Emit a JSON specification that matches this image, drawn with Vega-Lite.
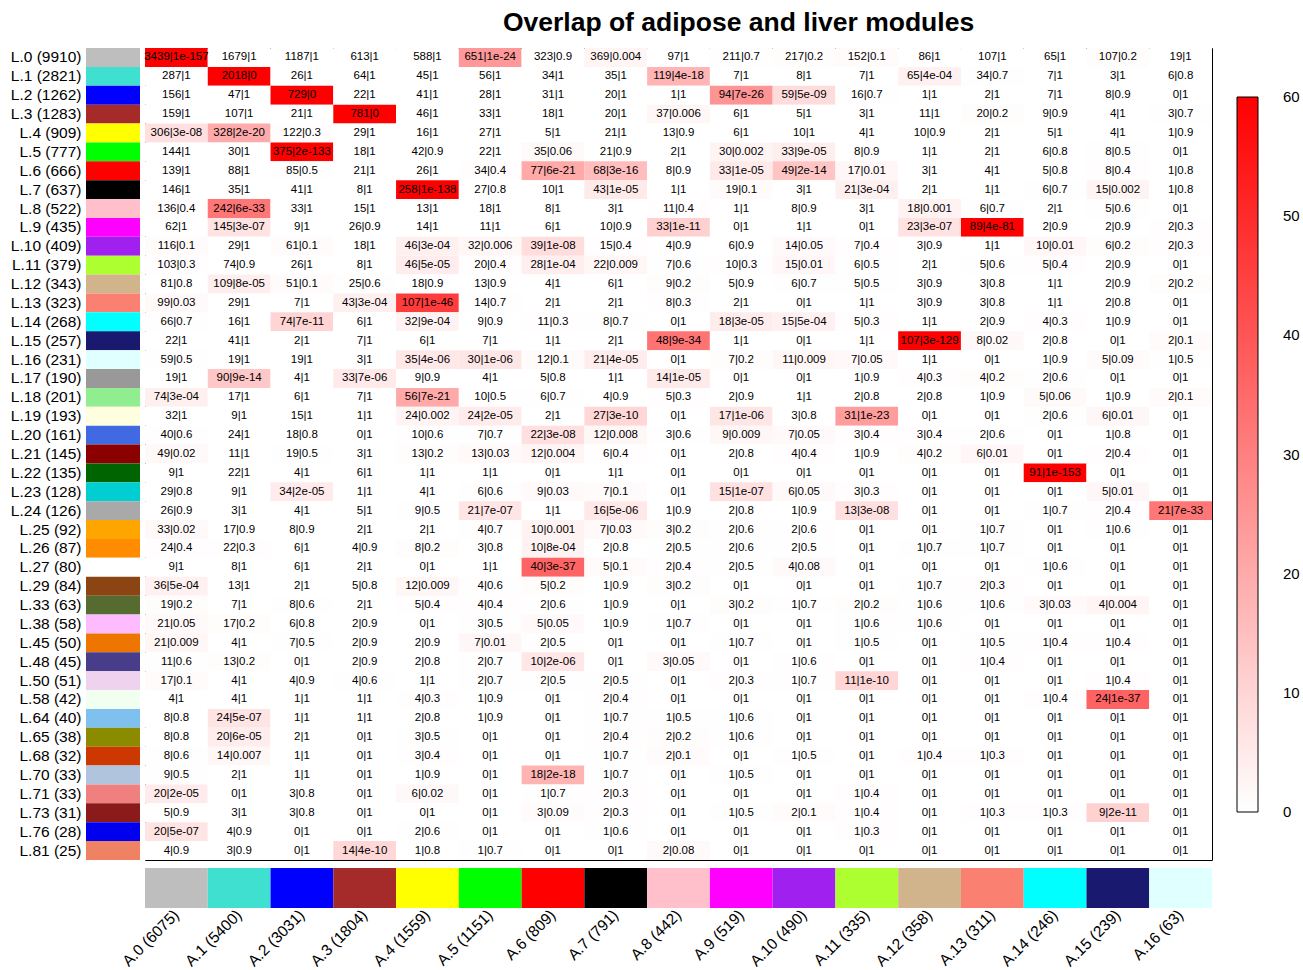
{
  "$schema": "https://vega.github.io/schema/vega-lite/v6.json",
  "padding": {"left": 10, "top": 8, "right": 3, "bottom": 2},
  "background": "white",
  "config": {
    "view": {"stroke": null},
    "font": "Liberation Sans",
    "axis": {"labelFont": "Liberation Sans", "labelColor": "black"},
    "legend": {"labelFont": "Liberation Sans", "labelColor": "black"}
  },
  "datasets": {
    "rows": [
      {"label": "L.0 (9910)", "hex": "#BEBEBE"},
      {"label": "L.1 (2821)", "hex": "#40E0D0"},
      {"label": "L.2 (1262)", "hex": "#0000FF"},
      {"label": "L.3 (1283)", "hex": "#A52A2A"},
      {"label": "L.4 (909)", "hex": "#FFFF00"},
      {"label": "L.5 (777)", "hex": "#00FF00"},
      {"label": "L.6 (666)", "hex": "#FF0000"},
      {"label": "L.7 (637)", "hex": "#000000"},
      {"label": "L.8 (522)", "hex": "#FFC0CB"},
      {"label": "L.9 (435)", "hex": "#FF00FF"},
      {"label": "L.10 (409)", "hex": "#A020F0"},
      {"label": "L.11 (379)", "hex": "#ADFF2F"},
      {"label": "L.12 (343)", "hex": "#D2B48C"},
      {"label": "L.13 (323)", "hex": "#FA8072"},
      {"label": "L.14 (268)", "hex": "#00FFFF"},
      {"label": "L.15 (257)", "hex": "#191970"},
      {"label": "L.16 (231)", "hex": "#E0FFFF"},
      {"label": "L.17 (190)", "hex": "#999999"},
      {"label": "L.18 (201)", "hex": "#90EE90"},
      {"label": "L.19 (193)", "hex": "#FFFFE0"},
      {"label": "L.20 (161)", "hex": "#4169E1"},
      {"label": "L.21 (145)", "hex": "#8B0000"},
      {"label": "L.22 (135)", "hex": "#006400"},
      {"label": "L.23 (128)", "hex": "#00CED1"},
      {"label": "L.24 (126)", "hex": "#A9A9A9"},
      {"label": "L.25 (92)", "hex": "#FFA500"},
      {"label": "L.26 (87)", "hex": "#FF8C00"},
      {"label": "L.27 (80)", "hex": "#FFFFFF"},
      {"label": "L.29 (84)", "hex": "#8B4513"},
      {"label": "L.33 (63)", "hex": "#556B2F"},
      {"label": "L.38 (58)", "hex": "#FFBBFF"},
      {"label": "L.45 (50)", "hex": "#EE7600"},
      {"label": "L.48 (45)", "hex": "#483D8B"},
      {"label": "L.50 (51)", "hex": "#EED2EE"},
      {"label": "L.58 (42)", "hex": "#F0FFF0"},
      {"label": "L.64 (40)", "hex": "#7EC0EE"},
      {"label": "L.65 (38)", "hex": "#8B8B00"},
      {"label": "L.68 (32)", "hex": "#CD3700"},
      {"label": "L.70 (33)", "hex": "#B0C4DE"},
      {"label": "L.71 (33)", "hex": "#F08080"},
      {"label": "L.73 (31)", "hex": "#8B1A1A"},
      {"label": "L.76 (28)", "hex": "#0000EE"},
      {"label": "L.81 (25)", "hex": "#EE8262"}
    ],
    "cols": [
      {"label": "A.0 (6075)", "hex": "#BEBEBE"},
      {"label": "A.1 (5400)", "hex": "#40E0D0"},
      {"label": "A.2 (3031)", "hex": "#0000FF"},
      {"label": "A.3 (1804)", "hex": "#A52A2A"},
      {"label": "A.4 (1559)", "hex": "#FFFF00"},
      {"label": "A.5 (1151)", "hex": "#00FF00"},
      {"label": "A.6 (809)", "hex": "#FF0000"},
      {"label": "A.7 (791)", "hex": "#000000"},
      {"label": "A.8 (442)", "hex": "#FFC0CB"},
      {"label": "A.9 (519)", "hex": "#FF00FF"},
      {"label": "A.10 (490)", "hex": "#A020F0"},
      {"label": "A.11 (335)", "hex": "#ADFF2F"},
      {"label": "A.12 (358)", "hex": "#D2B48C"},
      {"label": "A.13 (311)", "hex": "#FA8072"},
      {"label": "A.14 (246)", "hex": "#00FFFF"},
      {"label": "A.15 (239)", "hex": "#191970"},
      {"label": "A.16 (63)", "hex": "#E0FFFF"}
    ],
    "cells": [
      {"r":"L.0","c":"A.0","t":"3439|1e-157","s":157},{"r":"L.0","c":"A.1","t":"1679|1","s":0},{"r":"L.0","c":"A.2","t":"1187|1","s":0},{"r":"L.0","c":"A.3","t":"613|1","s":0},{"r":"L.0","c":"A.4","t":"588|1","s":0},{"r":"L.0","c":"A.5","t":"651|1e-24","s":24},{"r":"L.0","c":"A.6","t":"323|0.9","s":0.05},{"r":"L.0","c":"A.7","t":"369|0.004","s":2.4},{"r":"L.0","c":"A.8","t":"97|1","s":0},{"r":"L.0","c":"A.9","t":"211|0.7","s":0.15},{"r":"L.0","c":"A.10","t":"217|0.2","s":0.7},{"r":"L.0","c":"A.11","t":"152|0.1","s":1},{"r":"L.0","c":"A.12","t":"86|1","s":0},{"r":"L.0","c":"A.13","t":"107|1","s":0},{"r":"L.0","c":"A.14","t":"65|1","s":0},{"r":"L.0","c":"A.15","t":"107|0.2","s":0.7},{"r":"L.0","c":"A.16","t":"19|1","s":0},
      {"r":"L.1","c":"A.0","t":"287|1","s":0},{"r":"L.1","c":"A.1","t":"2018|0","s":324},{"r":"L.1","c":"A.2","t":"26|1","s":0},{"r":"L.1","c":"A.3","t":"64|1","s":0},{"r":"L.1","c":"A.4","t":"45|1","s":0},{"r":"L.1","c":"A.5","t":"56|1","s":0},{"r":"L.1","c":"A.6","t":"34|1","s":0},{"r":"L.1","c":"A.7","t":"35|1","s":0},{"r":"L.1","c":"A.8","t":"119|4e-18","s":17.4},{"r":"L.1","c":"A.9","t":"7|1","s":0},{"r":"L.1","c":"A.10","t":"8|1","s":0},{"r":"L.1","c":"A.11","t":"7|1","s":0},{"r":"L.1","c":"A.12","t":"65|4e-04","s":3.4},{"r":"L.1","c":"A.13","t":"34|0.7","s":0.15},{"r":"L.1","c":"A.14","t":"7|1","s":0},{"r":"L.1","c":"A.15","t":"3|1","s":0},{"r":"L.1","c":"A.16","t":"6|0.8","s":0.1},
      {"r":"L.2","c":"A.0","t":"156|1","s":0},{"r":"L.2","c":"A.1","t":"47|1","s":0},{"r":"L.2","c":"A.2","t":"729|0","s":324},{"r":"L.2","c":"A.3","t":"22|1","s":0},{"r":"L.2","c":"A.4","t":"41|1","s":0},{"r":"L.2","c":"A.5","t":"28|1","s":0},{"r":"L.2","c":"A.6","t":"31|1","s":0},{"r":"L.2","c":"A.7","t":"20|1","s":0},{"r":"L.2","c":"A.8","t":"1|1","s":0},{"r":"L.2","c":"A.9","t":"94|7e-26","s":25.15},{"r":"L.2","c":"A.10","t":"59|5e-09","s":8.3},{"r":"L.2","c":"A.11","t":"16|0.7","s":0.15},{"r":"L.2","c":"A.12","t":"1|1","s":0},{"r":"L.2","c":"A.13","t":"2|1","s":0},{"r":"L.2","c":"A.14","t":"7|1","s":0},{"r":"L.2","c":"A.15","t":"8|0.9","s":0.05},{"r":"L.2","c":"A.16","t":"0|1","s":0},
      {"r":"L.3","c":"A.0","t":"159|1","s":0},{"r":"L.3","c":"A.1","t":"107|1","s":0},{"r":"L.3","c":"A.2","t":"21|1","s":0},{"r":"L.3","c":"A.3","t":"781|0","s":324},{"r":"L.3","c":"A.4","t":"46|1","s":0},{"r":"L.3","c":"A.5","t":"33|1","s":0},{"r":"L.3","c":"A.6","t":"18|1","s":0},{"r":"L.3","c":"A.7","t":"20|1","s":0},{"r":"L.3","c":"A.8","t":"37|0.006","s":2.22},{"r":"L.3","c":"A.9","t":"6|1","s":0},{"r":"L.3","c":"A.10","t":"5|1","s":0},{"r":"L.3","c":"A.11","t":"3|1","s":0},{"r":"L.3","c":"A.12","t":"11|1","s":0},{"r":"L.3","c":"A.13","t":"20|0.2","s":0.7},{"r":"L.3","c":"A.14","t":"9|0.9","s":0.05},{"r":"L.3","c":"A.15","t":"4|1","s":0},{"r":"L.3","c":"A.16","t":"3|0.7","s":0.15},
      {"r":"L.4","c":"A.0","t":"306|3e-08","s":7.52},{"r":"L.4","c":"A.1","t":"328|2e-20","s":19.7},{"r":"L.4","c":"A.2","t":"122|0.3","s":0.52},{"r":"L.4","c":"A.3","t":"29|1","s":0},{"r":"L.4","c":"A.4","t":"16|1","s":0},{"r":"L.4","c":"A.5","t":"27|1","s":0},{"r":"L.4","c":"A.6","t":"5|1","s":0},{"r":"L.4","c":"A.7","t":"21|1","s":0},{"r":"L.4","c":"A.8","t":"13|0.9","s":0.05},{"r":"L.4","c":"A.9","t":"6|1","s":0},{"r":"L.4","c":"A.10","t":"10|1","s":0},{"r":"L.4","c":"A.11","t":"4|1","s":0},{"r":"L.4","c":"A.12","t":"10|0.9","s":0.05},{"r":"L.4","c":"A.13","t":"2|1","s":0},{"r":"L.4","c":"A.14","t":"5|1","s":0},{"r":"L.4","c":"A.15","t":"4|1","s":0},{"r":"L.4","c":"A.16","t":"1|0.9","s":0.05},
      {"r":"L.5","c":"A.0","t":"144|1","s":0},{"r":"L.5","c":"A.1","t":"30|1","s":0},{"r":"L.5","c":"A.2","t":"375|2e-133","s":132.7},{"r":"L.5","c":"A.3","t":"18|1","s":0},{"r":"L.5","c":"A.4","t":"42|0.9","s":0.05},{"r":"L.5","c":"A.5","t":"22|1","s":0},{"r":"L.5","c":"A.6","t":"35|0.06","s":1.22},{"r":"L.5","c":"A.7","t":"21|0.9","s":0.05},{"r":"L.5","c":"A.8","t":"2|1","s":0},{"r":"L.5","c":"A.9","t":"30|0.002","s":2.7},{"r":"L.5","c":"A.10","t":"33|9e-05","s":4.05},{"r":"L.5","c":"A.11","t":"8|0.9","s":0.05},{"r":"L.5","c":"A.12","t":"1|1","s":0},{"r":"L.5","c":"A.13","t":"2|1","s":0},{"r":"L.5","c":"A.14","t":"6|0.8","s":0.1},{"r":"L.5","c":"A.15","t":"8|0.5","s":0.3},{"r":"L.5","c":"A.16","t":"0|1","s":0},
      {"r":"L.6","c":"A.0","t":"139|1","s":0},{"r":"L.6","c":"A.1","t":"88|1","s":0},{"r":"L.6","c":"A.2","t":"85|0.5","s":0.3},{"r":"L.6","c":"A.3","t":"21|1","s":0},{"r":"L.6","c":"A.4","t":"26|1","s":0},{"r":"L.6","c":"A.5","t":"34|0.4","s":0.4},{"r":"L.6","c":"A.6","t":"77|6e-21","s":20.22},{"r":"L.6","c":"A.7","t":"68|3e-16","s":15.52},{"r":"L.6","c":"A.8","t":"8|0.9","s":0.05},{"r":"L.6","c":"A.9","t":"33|1e-05","s":5},{"r":"L.6","c":"A.10","t":"49|2e-14","s":13.7},{"r":"L.6","c":"A.11","t":"17|0.01","s":2},{"r":"L.6","c":"A.12","t":"3|1","s":0},{"r":"L.6","c":"A.13","t":"4|1","s":0},{"r":"L.6","c":"A.14","t":"5|0.8","s":0.1},{"r":"L.6","c":"A.15","t":"8|0.4","s":0.4},{"r":"L.6","c":"A.16","t":"1|0.8","s":0.1},
      {"r":"L.7","c":"A.0","t":"146|1","s":0},{"r":"L.7","c":"A.1","t":"35|1","s":0},{"r":"L.7","c":"A.2","t":"41|1","s":0},{"r":"L.7","c":"A.3","t":"8|1","s":0},{"r":"L.7","c":"A.4","t":"258|1e-138","s":138},{"r":"L.7","c":"A.5","t":"27|0.8","s":0.1},{"r":"L.7","c":"A.6","t":"10|1","s":0},{"r":"L.7","c":"A.7","t":"43|1e-05","s":5},{"r":"L.7","c":"A.8","t":"1|1","s":0},{"r":"L.7","c":"A.9","t":"19|0.1","s":1},{"r":"L.7","c":"A.10","t":"3|1","s":0},{"r":"L.7","c":"A.11","t":"21|3e-04","s":3.52},{"r":"L.7","c":"A.12","t":"2|1","s":0},{"r":"L.7","c":"A.13","t":"1|1","s":0},{"r":"L.7","c":"A.14","t":"6|0.7","s":0.15},{"r":"L.7","c":"A.15","t":"15|0.002","s":2.7},{"r":"L.7","c":"A.16","t":"1|0.8","s":0.1},
      {"r":"L.8","c":"A.0","t":"136|0.4","s":0.4},{"r":"L.8","c":"A.1","t":"242|6e-33","s":32.22},{"r":"L.8","c":"A.2","t":"33|1","s":0},{"r":"L.8","c":"A.3","t":"15|1","s":0},{"r":"L.8","c":"A.4","t":"13|1","s":0},{"r":"L.8","c":"A.5","t":"18|1","s":0},{"r":"L.8","c":"A.6","t":"8|1","s":0},{"r":"L.8","c":"A.7","t":"3|1","s":0},{"r":"L.8","c":"A.8","t":"11|0.4","s":0.4},{"r":"L.8","c":"A.9","t":"1|1","s":0},{"r":"L.8","c":"A.10","t":"8|0.9","s":0.05},{"r":"L.8","c":"A.11","t":"3|1","s":0},{"r":"L.8","c":"A.12","t":"18|0.001","s":3},{"r":"L.8","c":"A.13","t":"6|0.7","s":0.15},{"r":"L.8","c":"A.14","t":"2|1","s":0},{"r":"L.8","c":"A.15","t":"5|0.6","s":0.22},{"r":"L.8","c":"A.16","t":"0|1","s":0},
      {"r":"L.9","c":"A.0","t":"62|1","s":0},{"r":"L.9","c":"A.1","t":"145|3e-07","s":6.52},{"r":"L.9","c":"A.2","t":"9|1","s":0},{"r":"L.9","c":"A.3","t":"26|0.9","s":0.05},{"r":"L.9","c":"A.4","t":"14|1","s":0},{"r":"L.9","c":"A.5","t":"11|1","s":0},{"r":"L.9","c":"A.6","t":"6|1","s":0},{"r":"L.9","c":"A.7","t":"10|0.9","s":0.05},{"r":"L.9","c":"A.8","t":"33|1e-11","s":11},{"r":"L.9","c":"A.9","t":"0|1","s":0},{"r":"L.9","c":"A.10","t":"1|1","s":0},{"r":"L.9","c":"A.11","t":"0|1","s":0},{"r":"L.9","c":"A.12","t":"23|3e-07","s":6.52},{"r":"L.9","c":"A.13","t":"89|4e-81","s":80.4},{"r":"L.9","c":"A.14","t":"2|0.9","s":0.05},{"r":"L.9","c":"A.15","t":"2|0.9","s":0.05},{"r":"L.9","c":"A.16","t":"2|0.3","s":0.52},
      {"r":"L.10","c":"A.0","t":"116|0.1","s":1},{"r":"L.10","c":"A.1","t":"29|1","s":0},{"r":"L.10","c":"A.2","t":"61|0.1","s":1},{"r":"L.10","c":"A.3","t":"18|1","s":0},{"r":"L.10","c":"A.4","t":"46|3e-04","s":3.52},{"r":"L.10","c":"A.5","t":"32|0.006","s":2.22},{"r":"L.10","c":"A.6","t":"39|1e-08","s":8},{"r":"L.10","c":"A.7","t":"15|0.4","s":0.4},{"r":"L.10","c":"A.8","t":"4|0.9","s":0.05},{"r":"L.10","c":"A.9","t":"6|0.9","s":0.05},{"r":"L.10","c":"A.10","t":"14|0.05","s":1.3},{"r":"L.10","c":"A.11","t":"7|0.4","s":0.4},{"r":"L.10","c":"A.12","t":"3|0.9","s":0.05},{"r":"L.10","c":"A.13","t":"1|1","s":0},{"r":"L.10","c":"A.14","t":"10|0.01","s":2},{"r":"L.10","c":"A.15","t":"6|0.2","s":0.7},{"r":"L.10","c":"A.16","t":"2|0.3","s":0.52},
      {"r":"L.11","c":"A.0","t":"103|0.3","s":0.52},{"r":"L.11","c":"A.1","t":"74|0.9","s":0.05},{"r":"L.11","c":"A.2","t":"26|1","s":0},{"r":"L.11","c":"A.3","t":"8|1","s":0},{"r":"L.11","c":"A.4","t":"46|5e-05","s":4.3},{"r":"L.11","c":"A.5","t":"20|0.4","s":0.4},{"r":"L.11","c":"A.6","t":"28|1e-04","s":4},{"r":"L.11","c":"A.7","t":"22|0.009","s":2.05},{"r":"L.11","c":"A.8","t":"7|0.6","s":0.22},{"r":"L.11","c":"A.9","t":"10|0.3","s":0.52},{"r":"L.11","c":"A.10","t":"15|0.01","s":2},{"r":"L.11","c":"A.11","t":"6|0.5","s":0.3},{"r":"L.11","c":"A.12","t":"2|1","s":0},{"r":"L.11","c":"A.13","t":"5|0.6","s":0.22},{"r":"L.11","c":"A.14","t":"5|0.4","s":0.4},{"r":"L.11","c":"A.15","t":"2|0.9","s":0.05},{"r":"L.11","c":"A.16","t":"0|1","s":0},
      {"r":"L.12","c":"A.0","t":"81|0.8","s":0.1},{"r":"L.12","c":"A.1","t":"109|8e-05","s":4.1},{"r":"L.12","c":"A.2","t":"51|0.1","s":1},{"r":"L.12","c":"A.3","t":"25|0.6","s":0.22},{"r":"L.12","c":"A.4","t":"18|0.9","s":0.05},{"r":"L.12","c":"A.5","t":"13|0.9","s":0.05},{"r":"L.12","c":"A.6","t":"4|1","s":0},{"r":"L.12","c":"A.7","t":"6|1","s":0},{"r":"L.12","c":"A.8","t":"9|0.2","s":0.7},{"r":"L.12","c":"A.9","t":"5|0.9","s":0.05},{"r":"L.12","c":"A.10","t":"6|0.7","s":0.15},{"r":"L.12","c":"A.11","t":"5|0.5","s":0.3},{"r":"L.12","c":"A.12","t":"3|0.9","s":0.05},{"r":"L.12","c":"A.13","t":"3|0.8","s":0.1},{"r":"L.12","c":"A.14","t":"1|1","s":0},{"r":"L.12","c":"A.15","t":"2|0.9","s":0.05},{"r":"L.12","c":"A.16","t":"2|0.2","s":0.7},
      {"r":"L.13","c":"A.0","t":"99|0.03","s":1.52},{"r":"L.13","c":"A.1","t":"29|1","s":0},{"r":"L.13","c":"A.2","t":"7|1","s":0},{"r":"L.13","c":"A.3","t":"43|3e-04","s":3.52},{"r":"L.13","c":"A.4","t":"107|1e-46","s":46},{"r":"L.13","c":"A.5","t":"14|0.7","s":0.15},{"r":"L.13","c":"A.6","t":"2|1","s":0},{"r":"L.13","c":"A.7","t":"2|1","s":0},{"r":"L.13","c":"A.8","t":"8|0.3","s":0.52},{"r":"L.13","c":"A.9","t":"2|1","s":0},{"r":"L.13","c":"A.10","t":"0|1","s":0},{"r":"L.13","c":"A.11","t":"1|1","s":0},{"r":"L.13","c":"A.12","t":"3|0.9","s":0.05},{"r":"L.13","c":"A.13","t":"3|0.8","s":0.1},{"r":"L.13","c":"A.14","t":"1|1","s":0},{"r":"L.13","c":"A.15","t":"2|0.8","s":0.1},{"r":"L.13","c":"A.16","t":"0|1","s":0},
      {"r":"L.14","c":"A.0","t":"66|0.7","s":0.15},{"r":"L.14","c":"A.1","t":"16|1","s":0},{"r":"L.14","c":"A.2","t":"74|7e-11","s":10.15},{"r":"L.14","c":"A.3","t":"6|1","s":0},{"r":"L.14","c":"A.4","t":"32|9e-04","s":3.05},{"r":"L.14","c":"A.5","t":"9|0.9","s":0.05},{"r":"L.14","c":"A.6","t":"11|0.3","s":0.52},{"r":"L.14","c":"A.7","t":"8|0.7","s":0.15},{"r":"L.14","c":"A.8","t":"0|1","s":0},{"r":"L.14","c":"A.9","t":"18|3e-05","s":4.52},{"r":"L.14","c":"A.10","t":"15|5e-04","s":3.3},{"r":"L.14","c":"A.11","t":"5|0.3","s":0.52},{"r":"L.14","c":"A.12","t":"1|1","s":0},{"r":"L.14","c":"A.13","t":"2|0.9","s":0.05},{"r":"L.14","c":"A.14","t":"4|0.3","s":0.52},{"r":"L.14","c":"A.15","t":"1|0.9","s":0.05},{"r":"L.14","c":"A.16","t":"0|1","s":0},
      {"r":"L.15","c":"A.0","t":"22|1","s":0},{"r":"L.15","c":"A.1","t":"41|1","s":0},{"r":"L.15","c":"A.2","t":"2|1","s":0},{"r":"L.15","c":"A.3","t":"7|1","s":0},{"r":"L.15","c":"A.4","t":"6|1","s":0},{"r":"L.15","c":"A.5","t":"7|1","s":0},{"r":"L.15","c":"A.6","t":"1|1","s":0},{"r":"L.15","c":"A.7","t":"2|1","s":0},{"r":"L.15","c":"A.8","t":"48|9e-34","s":33.05},{"r":"L.15","c":"A.9","t":"1|1","s":0},{"r":"L.15","c":"A.10","t":"0|1","s":0},{"r":"L.15","c":"A.11","t":"1|1","s":0},{"r":"L.15","c":"A.12","t":"107|3e-129","s":128.52},{"r":"L.15","c":"A.13","t":"8|0.02","s":1.7},{"r":"L.15","c":"A.14","t":"2|0.8","s":0.1},{"r":"L.15","c":"A.15","t":"0|1","s":0},{"r":"L.15","c":"A.16","t":"2|0.1","s":1},
      {"r":"L.16","c":"A.0","t":"59|0.5","s":0.3},{"r":"L.16","c":"A.1","t":"19|1","s":0},{"r":"L.16","c":"A.2","t":"19|1","s":0},{"r":"L.16","c":"A.3","t":"3|1","s":0},{"r":"L.16","c":"A.4","t":"35|4e-06","s":5.4},{"r":"L.16","c":"A.5","t":"30|1e-06","s":6},{"r":"L.16","c":"A.6","t":"12|0.1","s":1},{"r":"L.16","c":"A.7","t":"21|4e-05","s":4.4},{"r":"L.16","c":"A.8","t":"0|1","s":0},{"r":"L.16","c":"A.9","t":"7|0.2","s":0.7},{"r":"L.16","c":"A.10","t":"11|0.009","s":2.05},{"r":"L.16","c":"A.11","t":"7|0.05","s":1.3},{"r":"L.16","c":"A.12","t":"1|1","s":0},{"r":"L.16","c":"A.13","t":"0|1","s":0},{"r":"L.16","c":"A.14","t":"1|0.9","s":0.05},{"r":"L.16","c":"A.15","t":"5|0.09","s":1.05},{"r":"L.16","c":"A.16","t":"1|0.5","s":0.3},
      {"r":"L.17","c":"A.0","t":"19|1","s":0},{"r":"L.17","c":"A.1","t":"90|9e-14","s":13.05},{"r":"L.17","c":"A.2","t":"4|1","s":0},{"r":"L.17","c":"A.3","t":"33|7e-06","s":5.15},{"r":"L.17","c":"A.4","t":"9|0.9","s":0.05},{"r":"L.17","c":"A.5","t":"4|1","s":0},{"r":"L.17","c":"A.6","t":"5|0.8","s":0.1},{"r":"L.17","c":"A.7","t":"1|1","s":0},{"r":"L.17","c":"A.8","t":"14|1e-05","s":5},{"r":"L.17","c":"A.9","t":"0|1","s":0},{"r":"L.17","c":"A.10","t":"0|1","s":0},{"r":"L.17","c":"A.11","t":"1|0.9","s":0.05},{"r":"L.17","c":"A.12","t":"4|0.3","s":0.52},{"r":"L.17","c":"A.13","t":"4|0.2","s":0.7},{"r":"L.17","c":"A.14","t":"2|0.6","s":0.22},{"r":"L.17","c":"A.15","t":"0|1","s":0},{"r":"L.17","c":"A.16","t":"0|1","s":0},
      {"r":"L.18","c":"A.0","t":"74|3e-04","s":3.52},{"r":"L.18","c":"A.1","t":"17|1","s":0},{"r":"L.18","c":"A.2","t":"6|1","s":0},{"r":"L.18","c":"A.3","t":"7|1","s":0},{"r":"L.18","c":"A.4","t":"56|7e-21","s":20.15},{"r":"L.18","c":"A.5","t":"10|0.5","s":0.3},{"r":"L.18","c":"A.6","t":"6|0.7","s":0.15},{"r":"L.18","c":"A.7","t":"4|0.9","s":0.05},{"r":"L.18","c":"A.8","t":"5|0.3","s":0.52},{"r":"L.18","c":"A.9","t":"2|0.9","s":0.05},{"r":"L.18","c":"A.10","t":"1|1","s":0},{"r":"L.18","c":"A.11","t":"2|0.8","s":0.1},{"r":"L.18","c":"A.12","t":"2|0.8","s":0.1},{"r":"L.18","c":"A.13","t":"1|0.9","s":0.05},{"r":"L.18","c":"A.14","t":"5|0.06","s":1.22},{"r":"L.18","c":"A.15","t":"1|0.9","s":0.05},{"r":"L.18","c":"A.16","t":"2|0.1","s":1},
      {"r":"L.19","c":"A.0","t":"32|1","s":0},{"r":"L.19","c":"A.1","t":"9|1","s":0},{"r":"L.19","c":"A.2","t":"15|1","s":0},{"r":"L.19","c":"A.3","t":"1|1","s":0},{"r":"L.19","c":"A.4","t":"24|0.002","s":2.7},{"r":"L.19","c":"A.5","t":"24|2e-05","s":4.7},{"r":"L.19","c":"A.6","t":"2|1","s":0},{"r":"L.19","c":"A.7","t":"27|3e-10","s":9.52},{"r":"L.19","c":"A.8","t":"0|1","s":0},{"r":"L.19","c":"A.9","t":"17|1e-06","s":6},{"r":"L.19","c":"A.10","t":"3|0.8","s":0.1},{"r":"L.19","c":"A.11","t":"31|1e-23","s":23},{"r":"L.19","c":"A.12","t":"0|1","s":0},{"r":"L.19","c":"A.13","t":"0|1","s":0},{"r":"L.19","c":"A.14","t":"2|0.6","s":0.22},{"r":"L.19","c":"A.15","t":"6|0.01","s":2},{"r":"L.19","c":"A.16","t":"0|1","s":0},
      {"r":"L.20","c":"A.0","t":"40|0.6","s":0.22},{"r":"L.20","c":"A.1","t":"24|1","s":0},{"r":"L.20","c":"A.2","t":"18|0.8","s":0.1},{"r":"L.20","c":"A.3","t":"0|1","s":0},{"r":"L.20","c":"A.4","t":"10|0.6","s":0.22},{"r":"L.20","c":"A.5","t":"7|0.7","s":0.15},{"r":"L.20","c":"A.6","t":"22|3e-08","s":7.52},{"r":"L.20","c":"A.7","t":"12|0.008","s":2.1},{"r":"L.20","c":"A.8","t":"3|0.6","s":0.22},{"r":"L.20","c":"A.9","t":"9|0.009","s":2.05},{"r":"L.20","c":"A.10","t":"7|0.05","s":1.3},{"r":"L.20","c":"A.11","t":"3|0.4","s":0.4},{"r":"L.20","c":"A.12","t":"3|0.4","s":0.4},{"r":"L.20","c":"A.13","t":"2|0.6","s":0.22},{"r":"L.20","c":"A.14","t":"0|1","s":0},{"r":"L.20","c":"A.15","t":"1|0.8","s":0.1},{"r":"L.20","c":"A.16","t":"0|1","s":0},
      {"r":"L.21","c":"A.0","t":"49|0.02","s":1.7},{"r":"L.21","c":"A.1","t":"11|1","s":0},{"r":"L.21","c":"A.2","t":"19|0.5","s":0.3},{"r":"L.21","c":"A.3","t":"3|1","s":0},{"r":"L.21","c":"A.4","t":"13|0.2","s":0.7},{"r":"L.21","c":"A.5","t":"13|0.03","s":1.52},{"r":"L.21","c":"A.6","t":"12|0.004","s":2.4},{"r":"L.21","c":"A.7","t":"6|0.4","s":0.4},{"r":"L.21","c":"A.8","t":"0|1","s":0},{"r":"L.21","c":"A.9","t":"2|0.8","s":0.1},{"r":"L.21","c":"A.10","t":"4|0.4","s":0.4},{"r":"L.21","c":"A.11","t":"1|0.9","s":0.05},{"r":"L.21","c":"A.12","t":"4|0.2","s":0.7},{"r":"L.21","c":"A.13","t":"6|0.01","s":2},{"r":"L.21","c":"A.14","t":"0|1","s":0},{"r":"L.21","c":"A.15","t":"2|0.4","s":0.4},{"r":"L.21","c":"A.16","t":"0|1","s":0},
      {"r":"L.22","c":"A.0","t":"9|1","s":0},{"r":"L.22","c":"A.1","t":"22|1","s":0},{"r":"L.22","c":"A.2","t":"4|1","s":0},{"r":"L.22","c":"A.3","t":"6|1","s":0},{"r":"L.22","c":"A.4","t":"1|1","s":0},{"r":"L.22","c":"A.5","t":"1|1","s":0},{"r":"L.22","c":"A.6","t":"0|1","s":0},{"r":"L.22","c":"A.7","t":"1|1","s":0},{"r":"L.22","c":"A.8","t":"0|1","s":0},{"r":"L.22","c":"A.9","t":"0|1","s":0},{"r":"L.22","c":"A.10","t":"0|1","s":0},{"r":"L.22","c":"A.11","t":"0|1","s":0},{"r":"L.22","c":"A.12","t":"0|1","s":0},{"r":"L.22","c":"A.13","t":"0|1","s":0},{"r":"L.22","c":"A.14","t":"91|1e-153","s":153},{"r":"L.22","c":"A.15","t":"0|1","s":0},{"r":"L.22","c":"A.16","t":"0|1","s":0},
      {"r":"L.23","c":"A.0","t":"29|0.8","s":0.1},{"r":"L.23","c":"A.1","t":"9|1","s":0},{"r":"L.23","c":"A.2","t":"34|2e-05","s":4.7},{"r":"L.23","c":"A.3","t":"1|1","s":0},{"r":"L.23","c":"A.4","t":"4|1","s":0},{"r":"L.23","c":"A.5","t":"6|0.6","s":0.22},{"r":"L.23","c":"A.6","t":"9|0.03","s":1.52},{"r":"L.23","c":"A.7","t":"7|0.1","s":1},{"r":"L.23","c":"A.8","t":"0|1","s":0},{"r":"L.23","c":"A.9","t":"15|1e-07","s":7},{"r":"L.23","c":"A.10","t":"6|0.05","s":1.3},{"r":"L.23","c":"A.11","t":"3|0.3","s":0.52},{"r":"L.23","c":"A.12","t":"0|1","s":0},{"r":"L.23","c":"A.13","t":"0|1","s":0},{"r":"L.23","c":"A.14","t":"0|1","s":0},{"r":"L.23","c":"A.15","t":"5|0.01","s":2},{"r":"L.23","c":"A.16","t":"0|1","s":0},
      {"r":"L.24","c":"A.0","t":"26|0.9","s":0.05},{"r":"L.24","c":"A.1","t":"3|1","s":0},{"r":"L.24","c":"A.2","t":"4|1","s":0},{"r":"L.24","c":"A.3","t":"5|1","s":0},{"r":"L.24","c":"A.4","t":"9|0.5","s":0.3},{"r":"L.24","c":"A.5","t":"21|7e-07","s":6.15},{"r":"L.24","c":"A.6","t":"1|1","s":0},{"r":"L.24","c":"A.7","t":"16|5e-06","s":5.3},{"r":"L.24","c":"A.8","t":"1|0.9","s":0.05},{"r":"L.24","c":"A.9","t":"2|0.8","s":0.1},{"r":"L.24","c":"A.10","t":"1|0.9","s":0.05},{"r":"L.24","c":"A.11","t":"13|3e-08","s":7.52},{"r":"L.24","c":"A.12","t":"0|1","s":0},{"r":"L.24","c":"A.13","t":"0|1","s":0},{"r":"L.24","c":"A.14","t":"1|0.7","s":0.15},{"r":"L.24","c":"A.15","t":"2|0.4","s":0.4},{"r":"L.24","c":"A.16","t":"21|7e-33","s":32.15},
      {"r":"L.25","c":"A.0","t":"33|0.02","s":1.7},{"r":"L.25","c":"A.1","t":"17|0.9","s":0.05},{"r":"L.25","c":"A.2","t":"8|0.9","s":0.05},{"r":"L.25","c":"A.3","t":"2|1","s":0},{"r":"L.25","c":"A.4","t":"2|1","s":0},{"r":"L.25","c":"A.5","t":"4|0.7","s":0.15},{"r":"L.25","c":"A.6","t":"10|0.001","s":3},{"r":"L.25","c":"A.7","t":"7|0.03","s":1.52},{"r":"L.25","c":"A.8","t":"3|0.2","s":0.7},{"r":"L.25","c":"A.9","t":"2|0.6","s":0.22},{"r":"L.25","c":"A.10","t":"2|0.6","s":0.22},{"r":"L.25","c":"A.11","t":"0|1","s":0},{"r":"L.25","c":"A.12","t":"0|1","s":0},{"r":"L.25","c":"A.13","t":"1|0.7","s":0.15},{"r":"L.25","c":"A.14","t":"0|1","s":0},{"r":"L.25","c":"A.15","t":"1|0.6","s":0.22},{"r":"L.25","c":"A.16","t":"0|1","s":0},
      {"r":"L.26","c":"A.0","t":"24|0.4","s":0.4},{"r":"L.26","c":"A.1","t":"22|0.3","s":0.52},{"r":"L.26","c":"A.2","t":"6|1","s":0},{"r":"L.26","c":"A.3","t":"4|0.9","s":0.05},{"r":"L.26","c":"A.4","t":"8|0.2","s":0.7},{"r":"L.26","c":"A.5","t":"3|0.8","s":0.1},{"r":"L.26","c":"A.6","t":"10|8e-04","s":3.1},{"r":"L.26","c":"A.7","t":"2|0.8","s":0.1},{"r":"L.26","c":"A.8","t":"2|0.5","s":0.3},{"r":"L.26","c":"A.9","t":"2|0.6","s":0.22},{"r":"L.26","c":"A.10","t":"2|0.5","s":0.3},{"r":"L.26","c":"A.11","t":"0|1","s":0},{"r":"L.26","c":"A.12","t":"1|0.7","s":0.15},{"r":"L.26","c":"A.13","t":"1|0.7","s":0.15},{"r":"L.26","c":"A.14","t":"0|1","s":0},{"r":"L.26","c":"A.15","t":"0|1","s":0},{"r":"L.26","c":"A.16","t":"0|1","s":0},
      {"r":"L.27","c":"A.0","t":"9|1","s":0},{"r":"L.27","c":"A.1","t":"8|1","s":0},{"r":"L.27","c":"A.2","t":"6|1","s":0},{"r":"L.27","c":"A.3","t":"2|1","s":0},{"r":"L.27","c":"A.4","t":"0|1","s":0},{"r":"L.27","c":"A.5","t":"1|1","s":0},{"r":"L.27","c":"A.6","t":"40|3e-37","s":36.52},{"r":"L.27","c":"A.7","t":"5|0.1","s":1},{"r":"L.27","c":"A.8","t":"2|0.4","s":0.4},{"r":"L.27","c":"A.9","t":"2|0.5","s":0.3},{"r":"L.27","c":"A.10","t":"4|0.08","s":1.1},{"r":"L.27","c":"A.11","t":"0|1","s":0},{"r":"L.27","c":"A.12","t":"0|1","s":0},{"r":"L.27","c":"A.13","t":"0|1","s":0},{"r":"L.27","c":"A.14","t":"1|0.6","s":0.22},{"r":"L.27","c":"A.15","t":"0|1","s":0},{"r":"L.27","c":"A.16","t":"0|1","s":0},
      {"r":"L.29","c":"A.0","t":"36|5e-04","s":3.3},{"r":"L.29","c":"A.1","t":"13|1","s":0},{"r":"L.29","c":"A.2","t":"2|1","s":0},{"r":"L.29","c":"A.3","t":"5|0.8","s":0.1},{"r":"L.29","c":"A.4","t":"12|0.009","s":2.05},{"r":"L.29","c":"A.5","t":"4|0.6","s":0.22},{"r":"L.29","c":"A.6","t":"5|0.2","s":0.7},{"r":"L.29","c":"A.7","t":"1|0.9","s":0.05},{"r":"L.29","c":"A.8","t":"3|0.2","s":0.7},{"r":"L.29","c":"A.9","t":"0|1","s":0},{"r":"L.29","c":"A.10","t":"0|1","s":0},{"r":"L.29","c":"A.11","t":"0|1","s":0},{"r":"L.29","c":"A.12","t":"1|0.7","s":0.15},{"r":"L.29","c":"A.13","t":"2|0.3","s":0.52},{"r":"L.29","c":"A.14","t":"0|1","s":0},{"r":"L.29","c":"A.15","t":"0|1","s":0},{"r":"L.29","c":"A.16","t":"0|1","s":0},
      {"r":"L.33","c":"A.0","t":"19|0.2","s":0.7},{"r":"L.33","c":"A.1","t":"7|1","s":0},{"r":"L.33","c":"A.2","t":"8|0.6","s":0.22},{"r":"L.33","c":"A.3","t":"2|1","s":0},{"r":"L.33","c":"A.4","t":"5|0.4","s":0.4},{"r":"L.33","c":"A.5","t":"4|0.4","s":0.4},{"r":"L.33","c":"A.6","t":"2|0.6","s":0.22},{"r":"L.33","c":"A.7","t":"1|0.9","s":0.05},{"r":"L.33","c":"A.8","t":"0|1","s":0},{"r":"L.33","c":"A.9","t":"3|0.2","s":0.7},{"r":"L.33","c":"A.10","t":"1|0.7","s":0.15},{"r":"L.33","c":"A.11","t":"2|0.2","s":0.7},{"r":"L.33","c":"A.12","t":"1|0.6","s":0.22},{"r":"L.33","c":"A.13","t":"1|0.6","s":0.22},{"r":"L.33","c":"A.14","t":"3|0.03","s":1.52},{"r":"L.33","c":"A.15","t":"4|0.004","s":2.4},{"r":"L.33","c":"A.16","t":"0|1","s":0},
      {"r":"L.38","c":"A.0","t":"21|0.05","s":1.3},{"r":"L.38","c":"A.1","t":"17|0.2","s":0.7},{"r":"L.38","c":"A.2","t":"6|0.8","s":0.1},{"r":"L.38","c":"A.3","t":"2|0.9","s":0.05},{"r":"L.38","c":"A.4","t":"0|1","s":0},{"r":"L.38","c":"A.5","t":"3|0.5","s":0.3},{"r":"L.38","c":"A.6","t":"5|0.05","s":1.3},{"r":"L.38","c":"A.7","t":"1|0.9","s":0.05},{"r":"L.38","c":"A.8","t":"1|0.7","s":0.15},{"r":"L.38","c":"A.9","t":"0|1","s":0},{"r":"L.38","c":"A.10","t":"0|1","s":0},{"r":"L.38","c":"A.11","t":"1|0.6","s":0.22},{"r":"L.38","c":"A.12","t":"1|0.6","s":0.22},{"r":"L.38","c":"A.13","t":"0|1","s":0},{"r":"L.38","c":"A.14","t":"0|1","s":0},{"r":"L.38","c":"A.15","t":"0|1","s":0},{"r":"L.38","c":"A.16","t":"0|1","s":0},
      {"r":"L.45","c":"A.0","t":"21|0.009","s":2.05},{"r":"L.45","c":"A.1","t":"4|1","s":0},{"r":"L.45","c":"A.2","t":"7|0.5","s":0.3},{"r":"L.45","c":"A.3","t":"2|0.9","s":0.05},{"r":"L.45","c":"A.4","t":"2|0.9","s":0.05},{"r":"L.45","c":"A.5","t":"7|0.01","s":2},{"r":"L.45","c":"A.6","t":"2|0.5","s":0.3},{"r":"L.45","c":"A.7","t":"0|1","s":0},{"r":"L.45","c":"A.8","t":"0|1","s":0},{"r":"L.45","c":"A.9","t":"1|0.7","s":0.15},{"r":"L.45","c":"A.10","t":"0|1","s":0},{"r":"L.45","c":"A.11","t":"1|0.5","s":0.3},{"r":"L.45","c":"A.12","t":"0|1","s":0},{"r":"L.45","c":"A.13","t":"1|0.5","s":0.3},{"r":"L.45","c":"A.14","t":"1|0.4","s":0.4},{"r":"L.45","c":"A.15","t":"1|0.4","s":0.4},{"r":"L.45","c":"A.16","t":"0|1","s":0},
      {"r":"L.48","c":"A.0","t":"11|0.6","s":0.22},{"r":"L.48","c":"A.1","t":"13|0.2","s":0.7},{"r":"L.48","c":"A.2","t":"0|1","s":0},{"r":"L.48","c":"A.3","t":"2|0.9","s":0.05},{"r":"L.48","c":"A.4","t":"2|0.8","s":0.1},{"r":"L.48","c":"A.5","t":"2|0.7","s":0.15},{"r":"L.48","c":"A.6","t":"10|2e-06","s":5.7},{"r":"L.48","c":"A.7","t":"0|1","s":0},{"r":"L.48","c":"A.8","t":"3|0.05","s":1.3},{"r":"L.48","c":"A.9","t":"0|1","s":0},{"r":"L.48","c":"A.10","t":"1|0.6","s":0.22},{"r":"L.48","c":"A.11","t":"0|1","s":0},{"r":"L.48","c":"A.12","t":"0|1","s":0},{"r":"L.48","c":"A.13","t":"1|0.4","s":0.4},{"r":"L.48","c":"A.14","t":"0|1","s":0},{"r":"L.48","c":"A.15","t":"0|1","s":0},{"r":"L.48","c":"A.16","t":"0|1","s":0},
      {"r":"L.50","c":"A.0","t":"17|0.1","s":1},{"r":"L.50","c":"A.1","t":"4|1","s":0},{"r":"L.50","c":"A.2","t":"4|0.9","s":0.05},{"r":"L.50","c":"A.3","t":"4|0.6","s":0.22},{"r":"L.50","c":"A.4","t":"1|1","s":0},{"r":"L.50","c":"A.5","t":"2|0.7","s":0.15},{"r":"L.50","c":"A.6","t":"2|0.5","s":0.3},{"r":"L.50","c":"A.7","t":"2|0.5","s":0.3},{"r":"L.50","c":"A.8","t":"0|1","s":0},{"r":"L.50","c":"A.9","t":"2|0.3","s":0.52},{"r":"L.50","c":"A.10","t":"1|0.7","s":0.15},{"r":"L.50","c":"A.11","t":"11|1e-10","s":10},{"r":"L.50","c":"A.12","t":"0|1","s":0},{"r":"L.50","c":"A.13","t":"0|1","s":0},{"r":"L.50","c":"A.14","t":"0|1","s":0},{"r":"L.50","c":"A.15","t":"1|0.4","s":0.4},{"r":"L.50","c":"A.16","t":"0|1","s":0},
      {"r":"L.58","c":"A.0","t":"4|1","s":0},{"r":"L.58","c":"A.1","t":"4|1","s":0},{"r":"L.58","c":"A.2","t":"1|1","s":0},{"r":"L.58","c":"A.3","t":"1|1","s":0},{"r":"L.58","c":"A.4","t":"4|0.3","s":0.52},{"r":"L.58","c":"A.5","t":"1|0.9","s":0.05},{"r":"L.58","c":"A.6","t":"0|1","s":0},{"r":"L.58","c":"A.7","t":"2|0.4","s":0.4},{"r":"L.58","c":"A.8","t":"0|1","s":0},{"r":"L.58","c":"A.9","t":"0|1","s":0},{"r":"L.58","c":"A.10","t":"0|1","s":0},{"r":"L.58","c":"A.11","t":"0|1","s":0},{"r":"L.58","c":"A.12","t":"0|1","s":0},{"r":"L.58","c":"A.13","t":"0|1","s":0},{"r":"L.58","c":"A.14","t":"1|0.4","s":0.4},{"r":"L.58","c":"A.15","t":"24|1e-37","s":37},{"r":"L.58","c":"A.16","t":"0|1","s":0},
      {"r":"L.64","c":"A.0","t":"8|0.8","s":0.1},{"r":"L.64","c":"A.1","t":"24|5e-07","s":6.3},{"r":"L.64","c":"A.2","t":"1|1","s":0},{"r":"L.64","c":"A.3","t":"1|1","s":0},{"r":"L.64","c":"A.4","t":"2|0.8","s":0.1},{"r":"L.64","c":"A.5","t":"1|0.9","s":0.05},{"r":"L.64","c":"A.6","t":"0|1","s":0},{"r":"L.64","c":"A.7","t":"1|0.7","s":0.15},{"r":"L.64","c":"A.8","t":"1|0.5","s":0.3},{"r":"L.64","c":"A.9","t":"1|0.6","s":0.22},{"r":"L.64","c":"A.10","t":"0|1","s":0},{"r":"L.64","c":"A.11","t":"0|1","s":0},{"r":"L.64","c":"A.12","t":"0|1","s":0},{"r":"L.64","c":"A.13","t":"0|1","s":0},{"r":"L.64","c":"A.14","t":"0|1","s":0},{"r":"L.64","c":"A.15","t":"0|1","s":0},{"r":"L.64","c":"A.16","t":"0|1","s":0},
      {"r":"L.65","c":"A.0","t":"8|0.8","s":0.1},{"r":"L.65","c":"A.1","t":"20|6e-05","s":4.22},{"r":"L.65","c":"A.2","t":"2|1","s":0},{"r":"L.65","c":"A.3","t":"0|1","s":0},{"r":"L.65","c":"A.4","t":"3|0.5","s":0.3},{"r":"L.65","c":"A.5","t":"0|1","s":0},{"r":"L.65","c":"A.6","t":"0|1","s":0},{"r":"L.65","c":"A.7","t":"2|0.4","s":0.4},{"r":"L.65","c":"A.8","t":"2|0.2","s":0.7},{"r":"L.65","c":"A.9","t":"1|0.6","s":0.22},{"r":"L.65","c":"A.10","t":"0|1","s":0},{"r":"L.65","c":"A.11","t":"0|1","s":0},{"r":"L.65","c":"A.12","t":"0|1","s":0},{"r":"L.65","c":"A.13","t":"0|1","s":0},{"r":"L.65","c":"A.14","t":"0|1","s":0},{"r":"L.65","c":"A.15","t":"0|1","s":0},{"r":"L.65","c":"A.16","t":"0|1","s":0},
      {"r":"L.68","c":"A.0","t":"8|0.6","s":0.22},{"r":"L.68","c":"A.1","t":"14|0.007","s":2.15},{"r":"L.68","c":"A.2","t":"1|1","s":0},{"r":"L.68","c":"A.3","t":"0|1","s":0},{"r":"L.68","c":"A.4","t":"3|0.4","s":0.4},{"r":"L.68","c":"A.5","t":"0|1","s":0},{"r":"L.68","c":"A.6","t":"0|1","s":0},{"r":"L.68","c":"A.7","t":"1|0.7","s":0.15},{"r":"L.68","c":"A.8","t":"2|0.1","s":1},{"r":"L.68","c":"A.9","t":"0|1","s":0},{"r":"L.68","c":"A.10","t":"1|0.5","s":0.3},{"r":"L.68","c":"A.11","t":"0|1","s":0},{"r":"L.68","c":"A.12","t":"1|0.4","s":0.4},{"r":"L.68","c":"A.13","t":"1|0.3","s":0.52},{"r":"L.68","c":"A.14","t":"0|1","s":0},{"r":"L.68","c":"A.15","t":"0|1","s":0},{"r":"L.68","c":"A.16","t":"0|1","s":0},
      {"r":"L.70","c":"A.0","t":"9|0.5","s":0.3},{"r":"L.70","c":"A.1","t":"2|1","s":0},{"r":"L.70","c":"A.2","t":"1|1","s":0},{"r":"L.70","c":"A.3","t":"0|1","s":0},{"r":"L.70","c":"A.4","t":"1|0.9","s":0.05},{"r":"L.70","c":"A.5","t":"0|1","s":0},{"r":"L.70","c":"A.6","t":"18|2e-18","s":17.7},{"r":"L.70","c":"A.7","t":"1|0.7","s":0.15},{"r":"L.70","c":"A.8","t":"0|1","s":0},{"r":"L.70","c":"A.9","t":"1|0.5","s":0.3},{"r":"L.70","c":"A.10","t":"0|1","s":0},{"r":"L.70","c":"A.11","t":"0|1","s":0},{"r":"L.70","c":"A.12","t":"0|1","s":0},{"r":"L.70","c":"A.13","t":"0|1","s":0},{"r":"L.70","c":"A.14","t":"0|1","s":0},{"r":"L.70","c":"A.15","t":"0|1","s":0},{"r":"L.70","c":"A.16","t":"0|1","s":0},
      {"r":"L.71","c":"A.0","t":"20|2e-05","s":4.7},{"r":"L.71","c":"A.1","t":"0|1","s":0},{"r":"L.71","c":"A.2","t":"3|0.8","s":0.1},{"r":"L.71","c":"A.3","t":"0|1","s":0},{"r":"L.71","c":"A.4","t":"6|0.02","s":1.7},{"r":"L.71","c":"A.5","t":"0|1","s":0},{"r":"L.71","c":"A.6","t":"1|0.7","s":0.15},{"r":"L.71","c":"A.7","t":"2|0.3","s":0.52},{"r":"L.71","c":"A.8","t":"0|1","s":0},{"r":"L.71","c":"A.9","t":"0|1","s":0},{"r":"L.71","c":"A.10","t":"0|1","s":0},{"r":"L.71","c":"A.11","t":"1|0.4","s":0.4},{"r":"L.71","c":"A.12","t":"0|1","s":0},{"r":"L.71","c":"A.13","t":"0|1","s":0},{"r":"L.71","c":"A.14","t":"0|1","s":0},{"r":"L.71","c":"A.15","t":"0|1","s":0},{"r":"L.71","c":"A.16","t":"0|1","s":0},
      {"r":"L.73","c":"A.0","t":"5|0.9","s":0.05},{"r":"L.73","c":"A.1","t":"3|1","s":0},{"r":"L.73","c":"A.2","t":"3|0.8","s":0.1},{"r":"L.73","c":"A.3","t":"0|1","s":0},{"r":"L.73","c":"A.4","t":"0|1","s":0},{"r":"L.73","c":"A.5","t":"0|1","s":0},{"r":"L.73","c":"A.6","t":"3|0.09","s":1.05},{"r":"L.73","c":"A.7","t":"2|0.3","s":0.52},{"r":"L.73","c":"A.8","t":"0|1","s":0},{"r":"L.73","c":"A.9","t":"1|0.5","s":0.3},{"r":"L.73","c":"A.10","t":"2|0.1","s":1},{"r":"L.73","c":"A.11","t":"1|0.4","s":0.4},{"r":"L.73","c":"A.12","t":"0|1","s":0},{"r":"L.73","c":"A.13","t":"1|0.3","s":0.52},{"r":"L.73","c":"A.14","t":"1|0.3","s":0.52},{"r":"L.73","c":"A.15","t":"9|2e-11","s":10.7},{"r":"L.73","c":"A.16","t":"0|1","s":0},
      {"r":"L.76","c":"A.0","t":"20|5e-07","s":6.3},{"r":"L.76","c":"A.1","t":"4|0.9","s":0.05},{"r":"L.76","c":"A.2","t":"0|1","s":0},{"r":"L.76","c":"A.3","t":"0|1","s":0},{"r":"L.76","c":"A.4","t":"2|0.6","s":0.22},{"r":"L.76","c":"A.5","t":"0|1","s":0},{"r":"L.76","c":"A.6","t":"0|1","s":0},{"r":"L.76","c":"A.7","t":"1|0.6","s":0.22},{"r":"L.76","c":"A.8","t":"0|1","s":0},{"r":"L.76","c":"A.9","t":"0|1","s":0},{"r":"L.76","c":"A.10","t":"0|1","s":0},{"r":"L.76","c":"A.11","t":"1|0.3","s":0.52},{"r":"L.76","c":"A.12","t":"0|1","s":0},{"r":"L.76","c":"A.13","t":"0|1","s":0},{"r":"L.76","c":"A.14","t":"0|1","s":0},{"r":"L.76","c":"A.15","t":"0|1","s":0},{"r":"L.76","c":"A.16","t":"0|1","s":0},
      {"r":"L.81","c":"A.0","t":"4|0.9","s":0.05},{"r":"L.81","c":"A.1","t":"3|0.9","s":0.05},{"r":"L.81","c":"A.2","t":"0|1","s":0},{"r":"L.81","c":"A.3","t":"14|4e-10","s":9.4},{"r":"L.81","c":"A.4","t":"1|0.8","s":0.1},{"r":"L.81","c":"A.5","t":"1|0.7","s":0.15},{"r":"L.81","c":"A.6","t":"0|1","s":0},{"r":"L.81","c":"A.7","t":"0|1","s":0},{"r":"L.81","c":"A.8","t":"2|0.08","s":1.1},{"r":"L.81","c":"A.9","t":"0|1","s":0},{"r":"L.81","c":"A.10","t":"0|1","s":0},{"r":"L.81","c":"A.11","t":"0|1","s":0},{"r":"L.81","c":"A.12","t":"0|1","s":0},{"r":"L.81","c":"A.13","t":"0|1","s":0},{"r":"L.81","c":"A.14","t":"0|1","s":0},{"r":"L.81","c":"A.15","t":"0|1","s":0},{"r":"L.81","c":"A.16","t":"0|1","s":0}
    ]
  },
  "bounds": "flush",
  "spacing": 5,
  "resolve": {"scale": {"color": "independent", "fill": "independent"}, "legend": {"color": "independent", "fill": "independent"}},
  "hconcat": [
    {
      "data": {"name": "rows"},
      "width": 54,
      "height": 812,
      "mark": "rect",
      "encoding": {
        "y": {"field": "label", "type": "nominal", "sort": null,
              "axis": {"title": null, "ticks": false, "domain": false, "labelFontSize": 15.5, "labelPadding": 5}},
        "fill": {"field": "hex", "type": "nominal", "scale": null, "legend": null}
      }
    },
    {
      "bounds": "flush",
      "spacing": 8,
      "resolve": {"scale": {"color": "independent", "fill": "independent"}, "legend": {"color": "independent", "fill": "independent"}},
      "vconcat": [
        {
          "data": {"name": "cells"},
          "width": 1067,
          "height": 812,
          "view": {"stroke": "black", "strokeWidth": 1},
          "title": {"text": "Overlap of adipose and liver modules", "fontSize": 26.5, "fontWeight": "bold", "color": "black", "anchor": "middle", "dx": 60, "offset": 12},
          "encoding": {
            "x": {"field": "c", "type": "nominal", "sort": null, "axis": null},
            "y": {"field": "r", "type": "nominal", "sort": null, "axis": null}
          },
          "layer": [
            {
              "mark": {"type": "rect"},
              "encoding": {
                "color": {
                  "field": "s", "type": "quantitative",
                  "scale": {"domain": [0, 60], "range": ["#FFFFFF", "#FF0000"], "clamp": true, "interpolate": "rgb"},
                  "legend": {
                    "title": null, "orient": "none", "legendX": 1092, "legendY": 49,
                    "direction": "vertical", "gradientLength": 715, "gradientThickness": 21,
                    "gradientStrokeColor": "black", "gradientStrokeWidth": 1,
                    "values": [0, 10, 20, 30, 40, 50, 60], "labelFontSize": 15, "labelOffset": 25,
                    "labelAlign": "left",
                    "encode": {"labels": {"update": {"baseline": {"value": "middle"}}}}
                  }
                }
              }
            },
            {
              "mark": {"type": "text", "fontSize": 11.5, "color": "black"},
              "encoding": {"text": {"field": "t", "type": "nominal"}}
            }
          ]
        },
        {
          "data": {"name": "cols"},
          "width": 1067,
          "height": 40,
          "mark": "rect",
          "encoding": {
            "x": {"field": "label", "type": "nominal", "sort": null,
                  "axis": {"title": null, "ticks": false, "domain": false, "labelFontSize": 15.5, "labelAngle": -45, "labelBaseline": "middle", "labelPadding": 4}},
            "fill": {"field": "hex", "type": "nominal", "scale": null, "legend": null}
          }
        }
      ]
    }
  ]
}
